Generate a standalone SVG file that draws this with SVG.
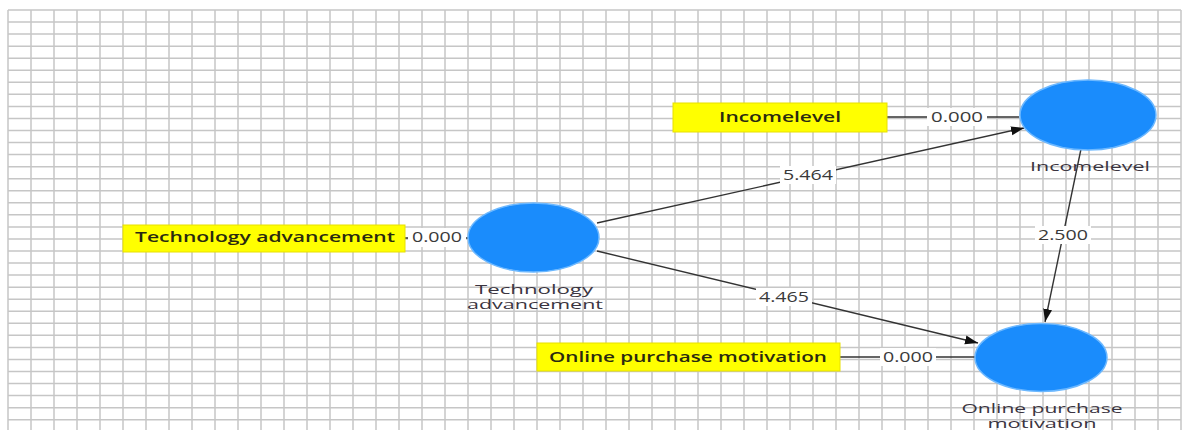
<svg xmlns="http://www.w3.org/2000/svg" width="1195" height="430" viewBox="0 0 1195 430">
<style>
.grid{stroke:#c6c6c6;stroke-width:1.5;fill:none}
.box{fill:#ffff00;stroke:#e8e000;stroke-width:1}
.boxt{font-family:"Open Sans","DejaVu Sans",sans-serif;font-size:14px;font-weight:600;fill:#2a2a10;text-anchor:middle}
.lv{fill:#1a8cfc;stroke:#6cb8ff;stroke-width:1.5}
.nt{font-family:"Open Sans","DejaVu Sans",sans-serif;font-size:12px;fill:#3a3440;text-anchor:middle}
.edge{stroke:#333;stroke-width:1.4;fill:none}
.lbg{fill:#fff}
.lt{font-family:"Open Sans","DejaVu Sans",sans-serif;font-size:14px;fill:#3a3a3a;text-anchor:middle}
</style>
<defs>
<marker id="arr" markerUnits="userSpaceOnUse" markerWidth="14" markerHeight="10" refX="13" refY="5" orient="auto">
<path d="M0,0.5 L13,5 L0,9.5 z" fill="#111"/>
</marker>
</defs>
<rect width="1195" height="430" fill="#fff"/>
<g id="grid">
<path class="grid" d="M8,10V430M31,10V430M54,10V430M77,10V430M100,10V430M123,10V430M146,10V430M169,10V430M192,10V430M215,10V430M238,10V430M261,10V430M284,10V430M307,10V430M330,10V430M353,10V430M376,10V430M399,10V430M422,10V430M445,10V430M468,10V430M491,10V430M514,10V430M537,10V430M560,10V430M583,10V430M606,10V430M629,10V430M652,10V430M675,10V430M698,10V430M721,10V430M744,10V430M767,10V430M790,10V430M813,10V430M836,10V430M859,10V430M882,10V430M905,10V430M928,10V430M951,10V430M974,10V430M997,10V430M1020,10V430M1043,10V430M1066,10V430M1089,10V430M1112,10V430M1135,10V430M1158,10V430M1181,10V430"/>
<path class="grid" d="M8,10H1181M8,22.05H1181M8,34.1H1181M8,46.15H1181M8,58.2H1181M8,70.25H1181M8,82.3H1181M8,94.35H1181M8,106.4H1181M8,118.45H1181M8,130.5H1181M8,142.55H1181M8,154.6H1181M8,166.65H1181M8,178.7H1181M8,190.75H1181M8,202.8H1181M8,214.85H1181M8,226.9H1181M8,238.95H1181M8,251H1181M8,263.05H1181M8,275.1H1181M8,287.15H1181M8,299.2H1181M8,311.25H1181M8,323.3H1181M8,335.35H1181M8,347.4H1181M8,359.45H1181M8,371.5H1181M8,383.55H1181M8,395.6H1181M8,407.65H1181M8,419.7H1181"/>
</g>
<g id="connectors">
<path class="edge" d="M405,238H468"/>
<path class="edge" d="M887,117H1019"/>
<path class="edge" d="M840,357H975"/>
<path class="edge" d="M597,223L1024,128" marker-end="url(#arr)"/>
<path class="edge" d="M597,251L978,343" marker-end="url(#arr)"/>
<path class="edge" d="M1081,149L1045,322" marker-end="url(#arr)"/>
<g id="labels">
<rect class="lbg" x="408" y="228" width="58" height="19"/>
<text class="lt" x="437" y="242" textLength="50" lengthAdjust="spacingAndGlyphs">0.000</text>
<rect class="lbg" x="927" y="108" width="60" height="18"/>
<text class="lt" x="957" y="121.5" textLength="52" lengthAdjust="spacingAndGlyphs">0.000</text>
<rect class="lbg" x="880" y="348" width="56" height="18"/>
<text class="lt" x="908" y="362" textLength="50" lengthAdjust="spacingAndGlyphs">0.000</text>
<rect class="lbg" x="780" y="166" width="56" height="18"/>
<text class="lt" x="808" y="180" textLength="50" lengthAdjust="spacingAndGlyphs">5.464</text>
<rect class="lbg" x="756" y="288" width="56" height="18"/>
<text class="lt" x="784" y="302" textLength="50" lengthAdjust="spacingAndGlyphs">4.465</text>
<rect class="lbg" x="1035" y="226" width="56" height="18"/>
<text class="lt" x="1063" y="240" textLength="50" lengthAdjust="spacingAndGlyphs">2.500</text>
</g>
</g>
<g id="ind-tech">
<rect class="box" x="123" y="225" width="282" height="27"/>
<text class="boxt" x="265" y="242" textLength="260" lengthAdjust="spacingAndGlyphs">Technology advancement</text>
</g>
<g id="ind-income">
<rect class="box" x="673" y="103" width="214" height="29"/>
<text class="boxt" x="780" y="122" textLength="122" lengthAdjust="spacingAndGlyphs">Incomelevel</text>
</g>
<g id="ind-opm">
<rect class="box" x="537" y="343" width="303" height="28"/>
<text class="boxt" x="688" y="362" textLength="278" lengthAdjust="spacingAndGlyphs">Online purchase motivation</text>
</g>
<g id="lv-tech">
<ellipse class="lv" cx="533.5" cy="237.5" rx="65.5" ry="34.5"/>
<text class="nt" x="534" y="294" textLength="118" lengthAdjust="spacingAndGlyphs">Technology</text>
<text class="nt" x="535" y="309" textLength="136" lengthAdjust="spacingAndGlyphs">advancement</text>
</g>
<g id="lv-income">
<ellipse class="lv" cx="1088" cy="115" rx="68" ry="35"/>
<text class="nt" x="1090" y="171" textLength="120" lengthAdjust="spacingAndGlyphs">Incomelevel</text>
</g>
<g id="lv-opm">
<ellipse class="lv" cx="1041" cy="357.5" rx="66" ry="34"/>
<text class="nt" x="1042" y="413" textLength="161" lengthAdjust="spacingAndGlyphs">Online purchase</text>
<text class="nt" x="1042" y="428" textLength="109" lengthAdjust="spacingAndGlyphs">motivation</text>
</g>
</svg>
